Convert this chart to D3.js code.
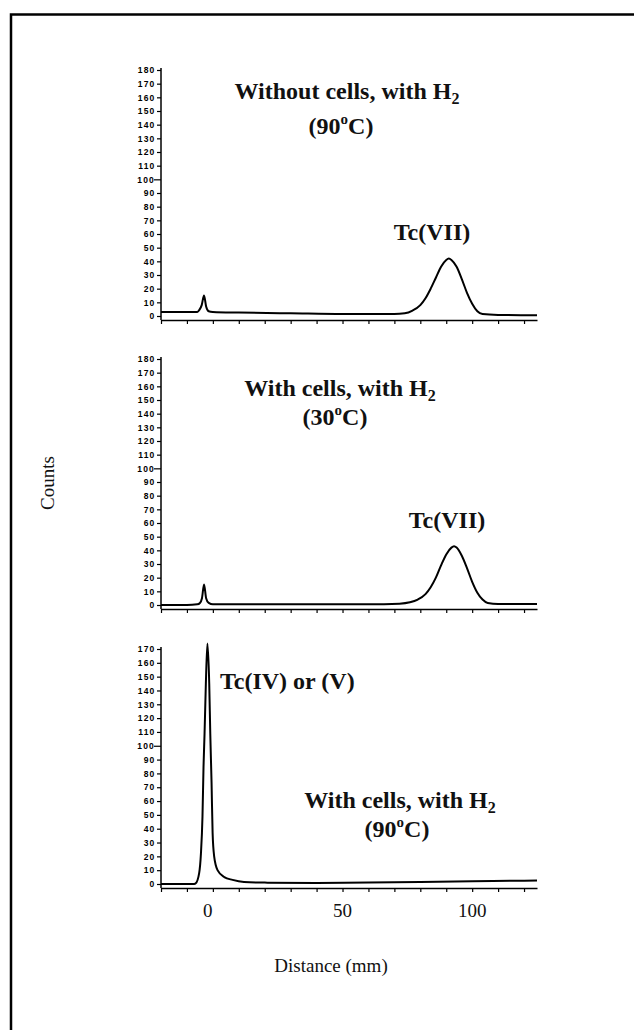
<!DOCTYPE html>
<html>
<head>
<meta charset="utf-8">
<script src="https://cdn.jsdelivr.net/npm/d3@7"></script>
<style>
  html, body { margin: 0; padding: 0; background: #fff; }
  svg { display: block; }
  .tick text { font-family: "Liberation Sans", Arial, sans-serif; font-weight: bold; font-size: 8.5px; letter-spacing: 1.2px; }
  .lbl { font-family: "Liberation Serif", "Times New Roman", serif; font-weight: bold; font-size: 24px; fill: #111; }
  .axt { font-family: "Liberation Serif", "Times New Roman", serif; font-size: 19px; fill: #111; }
</style>
</head>
<body>
<svg id="chart"></svg>
<script>
const width = 634, height = 1030;

// x axis (distance, mm)
const xDomain = [-20, 125];
const xTicks = d3.range(-20, 121, 10);
const xLabels = [0, 50, 100];

// y ticks
const yTicks180 = d3.range(0, 181, 10);
const yTicks170 = d3.range(0, 171, 10);

// panel 1: without cells, with H2 (90 C)
const p1Dist   = [-20, -12, -6, -5.2, -4.3, -3.4, -2.6, -1.6, 0, 10, 30, 50, 70, 74, 77, 80, 82, 84, 86, 88, 90, 91, 92, 94, 96, 98, 100, 102, 104, 110, 125];
const p1Counts = [3, 3, 3, 4.5, 8, 15, 7, 3.5, 3, 2.5, 2, 1.5, 1.5, 2, 4, 8, 13, 20, 28, 36, 41, 42, 41, 36, 27, 17, 9, 3.5, 1.5, 0.8, 0.5];

// panel 2: with cells, with H2 (30 C)
const p2Dist   = [-20, -10, -6, -5, -4.2, -3.4, -2.6, -1.6, 0, 20, 40, 60, 72, 76, 79, 82, 84, 86, 88, 90, 92, 93, 94, 96, 98, 100, 102, 104, 106, 110, 125];
const p2Counts = [0, 0, 0.5, 1.5, 5, 15, 5, 1.5, 0.5, 0.5, 0.5, 0.5, 1, 2, 4, 8, 13, 20, 29, 37, 42, 43, 42, 36, 27, 17, 9, 4, 1.5, 0.8, 0.8];

// panel 3: with cells, with H2 (90 C)
const p3Dist   = [-20, -10, -7.2, -6.6, -5.3, -4.6, -4.0, -3.6, -3.2, -2.7, -2.1, -1.4, -1.0, -0.5, -0.1, 0.5, 1.8, 4.4, 7.6, 12, 20, 40, 60, 80, 100, 115, 125];
const p3Counts = [0, 0, 0, 0.5, 7.7, 22, 49, 85, 109, 145, 174, 145, 109, 73, 37, 20, 10, 5, 3, 1.5, 1, 0.8, 1, 1.5, 2, 2.3, 2.5];

const panels = [
  { dist: p1Dist, counts: p1Counts, ymax: 180, ticks: yTicks180, top: 70, zero: 316, xaxis: 320,
    texts: [
      { parts: [["Without cells, with H"], ["2", "sub"]], x: 347, y: 99 },
      { parts: [["(90"], ["o", "sup"], ["C)"]], x: 341, y: 134 },
      { parts: [["Tc(VII)"]], x: 432, y: 240 }
    ] },
  { dist: p2Dist, counts: p2Counts, ymax: 180, ticks: yTicks180, top: 359, zero: 605, xaxis: 609,
    texts: [
      { parts: [["With cells, with H"], ["2", "sub"]], x: 340, y: 396 },
      { parts: [["(30"], ["o", "sup"], ["C)"]], x: 335, y: 425 },
      { parts: [["Tc(VII)"]], x: 447, y: 528 }
    ] },
  { dist: p3Dist, counts: p3Counts, ymax: 170, ticks: yTicks170, top: 649, zero: 884, xaxis: 888,
    texts: [
      { parts: [["Tc(IV) or (V)"]], x: 220, y: 689, anchor: "start" },
      { parts: [["With cells, with H"], ["2", "sub"]], x: 400, y: 808 },
      { parts: [["(90"], ["o", "sup"], ["C)"]], x: 397, y: 837 }
    ] }
];

const svg = d3.select("#chart").attr("width", width).attr("height", height);

// outer frame (runs off right and bottom edges)
svg.append("path")
    .attr("d", "M11,1040 L11,14.5 L640,14.5")
    .attr("fill", "none")
    .attr("stroke", "#000")
    .attr("stroke-width", 2.5);

const x = d3.scaleLinear().domain(xDomain).range([161, 537]);

panels.forEach((p, i) => {
    const y = d3.scaleLinear().domain([0, p.ymax]).range([p.zero, p.top]);
    const g = svg.append("g");

    // y axis
    const yAxis = d3.axisLeft(y).tickValues(p.ticks).tickSize(4).tickPadding(1.5).tickSizeOuter(0);
    const ya = g.append("g").attr("transform", `translate(${x(xDomain[0])},0)`).call(yAxis);
    ya.select(".domain").remove();
    ya.selectAll(".tick line").attr("stroke", "#000").attr("stroke-width", 1.2)
        .attr("x2", d => d === 100 ? -7 : -4);
    ya.selectAll(".tick text").attr("fill", "#000").attr("x", d => d === 100 ? -6 : -5.5);
    g.append("line")
        .attr("x1", x(xDomain[0])).attr("x2", x(xDomain[0]))
        .attr("y1", p.top - 2).attr("y2", p.xaxis)
        .attr("stroke", "#000").attr("stroke-width", 1.5);

    // x axis
    const xAxis = d3.axisBottom(x).tickValues(xTicks).tickSize(4).tickSizeOuter(0).tickFormat("");
    const xa = g.append("g").attr("transform", `translate(0,${p.xaxis})`).call(xAxis);
    xa.select(".domain").attr("stroke", "#000").attr("stroke-width", 1.5);
    xa.selectAll(".tick line").attr("stroke", "#000").attr("stroke-width", 1.2);

    if (i === panels.length - 1) {
        g.selectAll(".xlab")
            .data(xLabels)
            .enter().append("text")
            .attr("class", "axt")
            .attr("x", d => x(d) - (d === 0 ? 5 : 0))
            .attr("y", p.xaxis + 29)
            .attr("text-anchor", "middle")
            .text(d => d);
    }

    // curve
    const pts = p.dist.map((d, k) => [d, p.counts[k]]);
    const line = d3.line()
        .x(d => x(d[0]))
        .y(d => y(d[1]))
        .curve(d3.curveMonotoneX);
    g.append("path")
        .datum(pts)
        .attr("d", line)
        .attr("fill", "none")
        .attr("stroke", "#000")
        .attr("stroke-width", 2)
        .attr("stroke-linejoin", "round");

    // annotations
    p.texts.forEach(t => {
        const txt = g.append("text")
            .attr("class", "lbl")
            .attr("x", t.x)
            .attr("y", t.y)
            .attr("text-anchor", t.anchor || "middle");
        t.parts.forEach(([s, kind], k) => {
            const ts = txt.append("tspan").text(s);
            if (kind === "sub") ts.attr("dy", 5).style("font-size", "16px");
            if (kind === "sup") ts.attr("dy", -10).style("font-size", "15px");
            if (kind === undefined && k > 0) ts.attr("dy", 10);
        });
    });
});

// axis titles
svg.append("text")
    .attr("class", "axt")
    .attr("transform", "translate(54,483) rotate(-90)")
    .attr("text-anchor", "middle")
    .text("Counts");

svg.append("text")
    .attr("class", "axt")
    .attr("x", 331)
    .attr("y", 972)
    .attr("text-anchor", "middle")
    .text("Distance (mm)");
</script>
</body>
</html>
